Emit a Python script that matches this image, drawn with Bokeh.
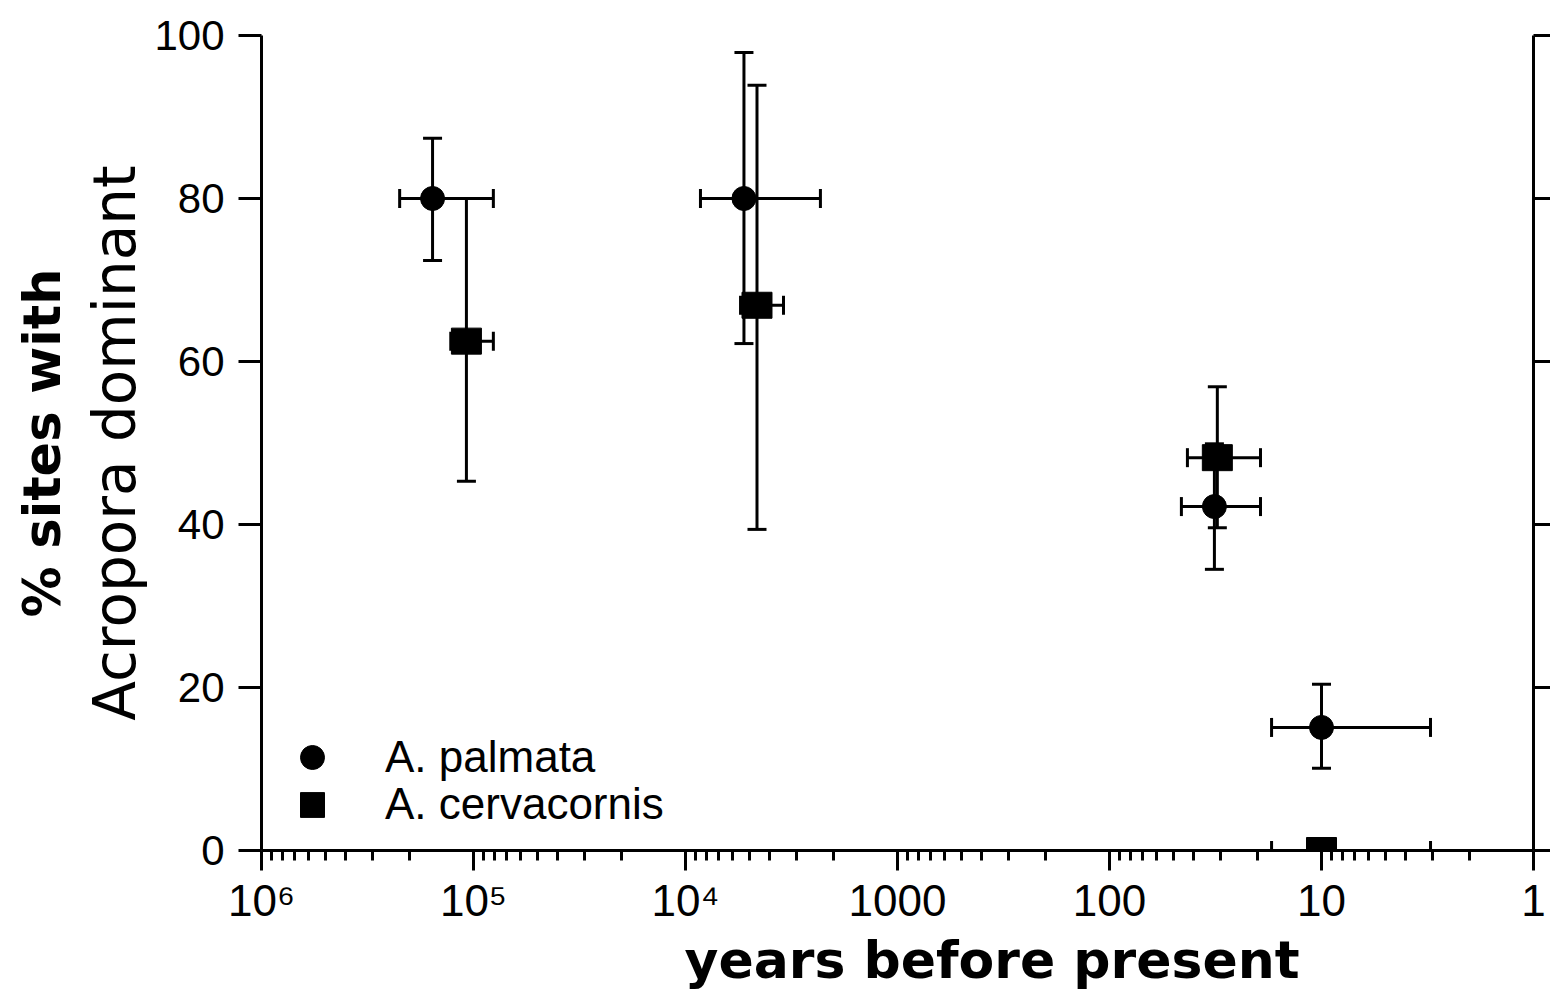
from bokeh.plotting import figure
from bokeh.models import (Range1d, LinearAxis, FixedTicker, Whisker, TeeHead, ColumnDataSource,
                          Legend, LegendItem, Title)
from bokeh.embed import file_html
from bokeh.resources import INLINE

# ---- data ----
year_ticks = [1e6, 1e5, 1e4, 1000, 100, 10, 1]
year_tick_labels = ["10\u2076", "10\u2075", "10\u2074", "1000", "100", "10", "1"]
pct_ticks = [0, 20, 40, 60, 80, 100]

palmata_years = [1.56e5, 5300, 32, 10]
palmata_pct = [80, 80, 42.2, 15.1]
palmata_years_older = [2.23e5, 8500, 45.8, 17.2]
palmata_years_younger = [8.06e4, 2310, 19.4, 3.06]
palmata_pct_low = [72.4, 62.2, 34.5, 10.1]
palmata_pct_high = [87.4, 97.9, 49.9, 20.4]

cerv_years = [1.08e5, 4600, 31, 10]
cerv_pct = [62.5, 66.9, 48.2, 0]
cerv_years_older = [1.28e5, 5500, 42.9, 17.2]
cerv_years_younger = [8.06e4, 3450, 19.4, 3.06]
cerv_pct_low = [45.3, 39.4, 39.6, 0]
cerv_pct_high = [80, 93.9, 56.9, 0]

TICK_FONT = "Liberation Sans"
LABEL_FONT = "DejaVu Sans"

pal = ColumnDataSource(dict(x=palmata_years, y=palmata_pct, xo=palmata_years_older,
                            xy=palmata_years_younger, yl=palmata_pct_low, yh=palmata_pct_high))
cer = ColumnDataSource(dict(x=cerv_years, y=cerv_pct, xo=cerv_years_older,
                            xy=cerv_years_younger, yl=cerv_pct_low, yh=cerv_pct_high))

p = figure(width=1550, height=992, x_axis_type="log",
           x_range=Range1d(1e6, 1), y_range=Range1d(0, 100),
           output_backend="svg", toolbar_location=None,
           min_border_left=261, min_border_top=35, min_border_right=17, min_border_bottom=142)
p.outline_line_color = None
p.grid.grid_line_color = None
p.background_fill_color = "white"
p.border_fill_color = "white"

# x axis
xa = p.xaxis[0]
xa.ticker = FixedTicker(ticks=year_ticks,
                        minor_ticks=[m * 10 ** e for e in range(0, 6) for m in range(2, 10)])
xa.major_label_overrides = {t: l for t, l in zip(year_ticks, year_tick_labels)}
xa.axis_line_width = 3
xa.major_tick_line_width = 3
xa.minor_tick_line_width = 3
xa.major_tick_out = 20
xa.major_tick_in = 0
xa.minor_tick_out = 10
xa.minor_tick_in = 0
xa.major_label_standoff = 5
xa.major_label_text_font = TICK_FONT
xa.major_label_text_font_size = "44px"
xa.major_label_text_color = "black"

# y axis
ya = p.yaxis[0]
ya.ticker = FixedTicker(ticks=pct_ticks)
ya.axis_line_width = 3
ya.major_tick_line_width = 3
ya.major_tick_out = 23
ya.major_tick_in = 0
ya.minor_tick_line_color = None
ya.major_label_standoff = 14
ya.major_label_text_font = TICK_FONT
ya.major_label_text_font_size = "42px"
ya.major_label_text_color = "black"

# right axis (edge of neighbouring panel)
ra = LinearAxis(ticker=FixedTicker(ticks=pct_ticks),
                major_label_overrides={t: "" for t in pct_ticks},
                major_label_standoff=0, major_tick_out=17, major_tick_in=0,
                major_tick_line_width=3, axis_line_width=3,
                minor_tick_line_color=None)
p.add_layout(ra, "right")

# axis titles
p.add_layout(Title(text="years before present", align="left", offset=423,
                   text_font=LABEL_FONT, text_font_style="bold", text_font_size="52px",
                   text_color="black", standoff=0), "below")
p.add_layout(Title(text="Acropora dominant", align="center",
                   text_font=LABEL_FONT, text_font_style="normal", text_font_size="58px",
                   text_color="black", standoff=6), "left")
p.add_layout(Title(text="% sites with", align="center",
                   text_font=LABEL_FONT, text_font_style="bold", text_font_size="51px",
                   text_color="black", standoff=8), "left")

# error bars
def add_err(src):
    wv = Whisker(source=src, base="x", lower="yl", upper="yh", dimension="height",
                 line_width=3, line_color="black",
                 lower_head=TeeHead(size=19, line_width=3),
                 upper_head=TeeHead(size=19, line_width=3))
    wh = Whisker(source=src, base="y", lower="xy", upper="xo", dimension="width",
                 line_width=3, line_color="black",
                 lower_head=TeeHead(size=19, line_width=3),
                 upper_head=TeeHead(size=19, line_width=3))
    p.add_layout(wv)
    p.add_layout(wh)

add_err(pal)
add_err(cer)

r_pal = p.scatter("x", "y", source=pal, marker="circle", size=24,
                  fill_color="black", line_color="black")
r_cer = p.rect("x", "y", source=cer, width=30, height=26,
               width_units="screen", height_units="screen",
               fill_color="black", line_color="black")

common = dict(padding=0, margin=0, spacing=0,
              label_text_font=TICK_FONT, label_text_font_size="44px",
              label_text_color="black",
              background_fill_alpha=0, border_line_color=None)
leg1 = Legend(items=[LegendItem(label="A. palmata", renderers=[r_pal])],
              location=(21, 63), glyph_width=60, glyph_height=60, label_standoff=43,
              **common)
leg2 = Legend(items=[LegendItem(label="A. cervacornis", renderers=[r_cer])],
              location=(36, 21), glyph_width=30, glyph_height=31, label_standoff=58,
              **common)
p.add_layout(leg1)
p.add_layout(leg2)

open("out.html", "w").write(file_html(p, INLINE))
